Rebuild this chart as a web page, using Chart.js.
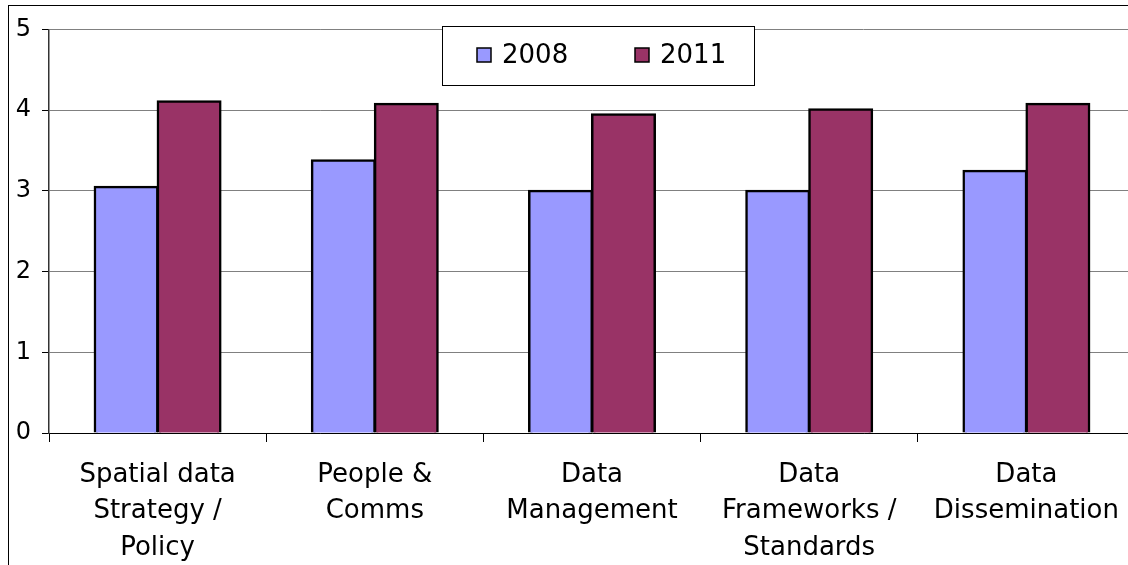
<!DOCTYPE html>
<html>
<head>
<meta charset="utf-8">
<script src="https://cdn.jsdelivr.net/npm/chart.js@4.4.0/dist/chart.umd.min.js"></script>
<style>
    html, body { margin: 0; padding: 0; background: #fff; overflow: hidden; }
    #frame { position: absolute; left: 8px; top: 5px; width: 1160px; height: 600px; border: 1px solid #000; overflow: hidden; }
    canvas { display: block; margin-top: -2px; }
</style>
</head>
<body>
<div id="frame"><canvas id="chart" width="1150" height="590"></canvas></div>
<script>
const categories = [
    ['Spatial data', 'Strategy /', 'Policy'],
    ['People &', 'Comms'],
    ['Data', 'Management'],
    ['Data', 'Frameworks /', 'Standards'],
    ['Data', 'Dissemination']
];
const seriesNames = ['2008', '2011'];
const values2008 = [3.05, 3.38, 3.0, 3.0, 3.25];
const values2011 = [4.11, 4.08, 3.95, 4.01, 4.08];
const seriesColors = ['#9999FF', '#993366'];
const yTicks = [0, 1, 2, 3, 4, 5];

const FONT = '"DejaVu Sans", sans-serif';

// boxed legend like the spreadsheet one, sitting over the top gridline
const boxLegend = {
    id: 'boxLegend',
    afterDraw(chart) {
        const ctx = chart.ctx;
        ctx.save();
        ctx.fillStyle = '#fff';
        ctx.fillRect(433.5, 22.5, 312, 59);
        ctx.strokeStyle = '#000';
        ctx.lineWidth = 1;
        ctx.strokeRect(433.5, 22.5, 312, 59);
        ctx.font = '26px ' + FONT;
        ctx.textBaseline = 'middle';
        const xs = [468, 626];
        chart.data.datasets.forEach((ds, i) => {
            ctx.fillStyle = ds.backgroundColor;
            ctx.fillRect(xs[i], 44, 14, 14);
            ctx.lineWidth = 1.5;
            ctx.strokeStyle = '#000';
            ctx.strokeRect(xs[i], 44, 14, 14);
            ctx.fillStyle = '#000';
            ctx.fillText(ds.label, xs[i] + 25, 52);
        });
        ctx.restore();
    }
};

new Chart(document.getElementById('chart'), {
    type: 'bar',
    data: {
        labels: categories,
        datasets: [
            {
                label: seriesNames[0],
                data: values2008,
                backgroundColor: seriesColors[0],
                borderColor: '#000',
                borderWidth: 2.5,
                inflateAmount: 1,
                categoryPercentage: 0.58,
                barPercentage: 1
            },
            {
                label: seriesNames[1],
                data: values2011,
                backgroundColor: seriesColors[1],
                borderColor: '#000',
                borderWidth: 2.5,
                inflateAmount: 1,
                categoryPercentage: 0.58,
                barPercentage: 1
            }
        ]
    },
    options: {
        responsive: false,
        animation: false,
        layout: { padding: { top: 15, right: 24, left: 0, bottom: 0 } },
        plugins: {
            legend: { display: false },
            tooltip: { enabled: false }
        },
        scales: {
            x: {
                offset: true,
                grid: {
                    offset: true,
                    drawOnChartArea: false,
                    tickLength: 9,
                    tickColor: '#000'
                },
                border: { color: '#000', width: 1 },
                ticks: {
                    color: '#000',
                    font: { family: FONT, size: 26, lineHeight: 1.4 },
                    padding: 15,
                    maxRotation: 0,
                    autoSkip: false
                },
                afterFit(scale) { scale.height = 161; }
            },
            y: {
                min: 0,
                max: 5,
                afterBuildTicks(scale) { scale.ticks = yTicks.map(v => ({ value: v })); },
                grid: {
                    color: '#808080',
                    tickColor: '#000',
                    tickLength: 7
                },
                border: { color: '#333', width: 1.5 },
                ticks: {
                    color: '#000',
                    font: { family: FONT, size: 24 },
                    padding: 11
                },
                afterFit(scale) { scale.width = 40; }
            }
        }
    },
    plugins: [boxLegend]
});
</script>
</body>
</html>
